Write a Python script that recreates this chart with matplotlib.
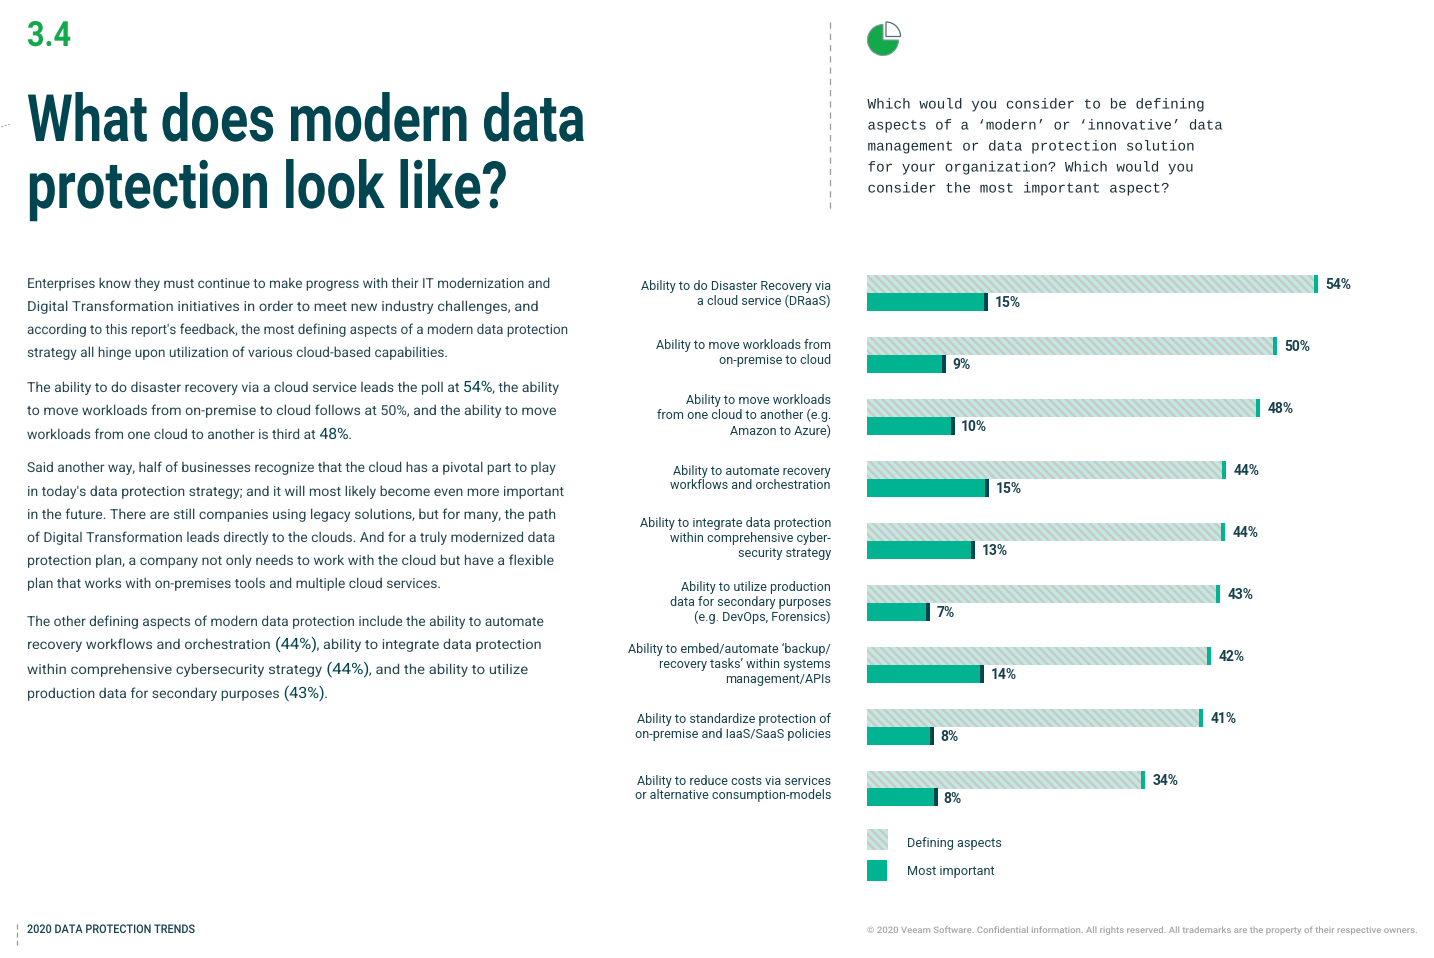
"""
Recreate the 'What does modern data protection look like?' report page.
"""

import matplotlib
matplotlib.use("Agg")
import matplotlib.pyplot as plt
from matplotlib.patches import Rectangle, Wedge
from matplotlib.patheffects import AbstractPathEffect
from matplotlib.transforms import Affine2D

# ---------------------------------------------------------------------------
# 1.  Data
# ---------------------------------------------------------------------------
categories = [
    "Ability to do Disaster Recovery via\na cloud service (DRaaS)",
    "Ability to move workloads from\non-premise to cloud",
    "Ability to move workloads\nfrom one cloud to another (e.g.\nAmazon to Azure)",
    "Ability to automate recovery\nworkflows and orchestration",
    "Ability to integrate data protection\nwithin comprehensive cyber-\nsecurity strategy",
    "Ability to utilize production\ndata for secondary purposes\n(e.g. DevOps, Forensics)",
    "Ability to embed/automate ‘backup/\nrecovery tasks’ within systems\nmanagement/APIs",
    "Ability to standardize protection of\non-premise and IaaS/SaaS policies",
    "Ability to reduce costs via services\nor alternative consumption-models",
]
# bar lengths as drawn on the page, in percent
defining = [55.0, 50.0, 47.9, 43.8, 43.7, 43.0, 41.9, 41.0, 33.9]
important = [14.8, 9.6, 10.7, 14.9, 13.2, 7.7, 14.3, 8.2, 8.6]
defining_labels = ["54%", "50%", "48%", "44%", "44%", "43%", "42%", "41%", "34%"]
important_labels = ["15%", "9%", "10%", "15%", "13%", "7%", "14%", "8%", "8%"]

question = [
    "Which would you consider to be defining",
    "aspects of a ‘modern’ or ‘innovative’ data",
    "management or data protection solution",
    "for your organization? Which would you",
    "consider the most important aspect?",
]

# runs flagged True are the emphasised numbers
body_lines = [
    [("Enterprises know they must continue to make progress with their IT modernization and", False)],
    [("Digital Transformation initiatives in order to meet new industry challenges, and", False)],
    [("according to this report's feedback, the most defining aspects of a modern data protection", False)],
    [("strategy all hinge upon utilization of various cloud-based capabilities.", False)],
    [("The ability to do disaster recovery via a cloud service leads the poll at ", False), ("54%", True), (", the ability", False)],
    [("to move workloads from on-premise to cloud follows at 50%, and the ability to move", False)],
    [("workloads from one cloud to another is third at ", False), ("48%", True), (".", False)],
    [("Said another way, half of businesses recognize that the cloud has a pivotal part to play", False)],
    [("in today's data protection strategy; and it will most likely become even more important", False)],
    [("in the future. There are still companies using legacy solutions, but for many, the path", False)],
    [("of Digital Transformation leads directly to the clouds. And for a truly modernized data", False)],
    [("protection plan, a company not only needs to work with the cloud but have a flexible", False)],
    [("plan that works with on-premises tools and multiple cloud services.", False)],
    [("The other defining aspects of modern data protection include the ability to automate", False)],
    [("recovery workflows and orchestration ", False), ("(44%)", True), (", ability to integrate data protection", False)],
    [("within comprehensive cybersecurity strategy ", False), ("(44%)", True), (", and the ability to utilize", False)],
    [("production data for secondary purposes ", False), ("(43%)", True), (".", False)],
]

# ---------------------------------------------------------------------------
# 2.  Page set-up
# ---------------------------------------------------------------------------
W, H = 1434, 958
NAVY = "#00454f"
TEAL = "#00b391"
GREEN = "#13a94b"
TEXT = "#17414d"
BODY = "#2a4852"
HATCH_BG = "#c2e9e0"
HATCH_FG = "#c9c9c9"
HATCH = "\\\\\\\\"

# page pixel layout for the text blocks
BODY_BASE = [288, 311, 334, 357, 392, 415, 439, 472, 496, 519, 542, 565, 588, 626, 649, 674, 698]
BODY_RIGHT = [551, 539, 569, 448, 559, 556, 352, 556, 564, 556, 555, 554, 441, 544, 542, 528, 328]
QUESTION_RIGHT = [1204, 1222, 1194, 1193, 1169]
LABEL_CENTRES = [291.5, 350.5, 413.5, 476, 536, 600, 662, 725, 786]

plt.rcParams["font.family"] = ["Roboto", "DejaVu Sans"]
plt.rcParams["hatch.linewidth"] = 1.7


class XScale(AbstractPathEffect):
    """Squeeze a text horizontally, Roboto Condensed is not installed."""

    def __init__(self, factor):
        super().__init__()
        self.factor = factor

    def draw_path(self, renderer, gc, tpath, affine, rgbFace=None):
        m = affine.get_matrix().copy()
        m[0, 0] *= self.factor
        m[0, 1] *= self.factor
        renderer.draw_path(gc, tpath, Affine2D(m), rgbFace)


fig = plt.figure(figsize=(W / 100, H / 100), dpi=100, facecolor="white")
renderer = fig.canvas.get_renderer()

# page axes works in reference pixels, y down
page = fig.add_axes([0, 0, 1, 1])
page.set_xlim(0, W)
page.set_ylim(H, 0)
page.axis("off")


def fit_text(x0, x1, y, s, **kw):
    t = page.text(x0, y, s, va="baseline", ha="left", **kw)
    t.set_path_effects([XScale((x1 - x0) / t.get_window_extent(renderer).width)])
    return t


fit_text(27, 71, 46, "3.4", color=GREEN, fontsize=25, fontweight="bold")
fit_text(27, 585, 141, "What does modern data", color=NAVY, fontsize=47, fontweight="bold")
fit_text(27, 507, 208, "protection look like?", color=NAVY, fontsize=47, fontweight="bold")

# stray mark left of the title
page.plot([1, 10], [127, 124], color="#9a9a9a", lw=0.6, ls=(0, (3, 1.5)))

# question block
page.plot([830, 830], [22, 212], color="#9a9a9a", lw=0.9, ls=(0, (5, 4)))
for i, line in enumerate(question):
    fit_text(867.5, QUESTION_RIGHT[i], 108.5 + i * 21, line, family="Liberation Mono",
             fontsize=10.37, color="#1c2f36")

# pie icon
page.add_patch(Wedge((883, 40), 15.5, 0, 270, facecolor=GREEN,
                     edgecolor="#8a9a9c", lw=0.8))
page.add_patch(Wedge((886, 36.5), 14.5, 270, 360, facecolor="white",
                     edgecolor="#4f6f75", lw=0.9))

# body copy, run by run so the numbers can sit larger inside a line
for runs, base, right in zip(body_lines, BODY_BASE, BODY_RIGHT):
    texts = [page.text(0, base, chunk, fontsize=11.2 if strong else 9.9,
                       fontweight="normal", color=NAVY if strong else BODY,
                       va="baseline", ha="left")
             for chunk, strong in runs]
    widths = [t.get_window_extent(renderer).width for t in texts]
    factor = (right - 27) / sum(widths)
    x = 27
    for t, w in zip(texts, widths):
        t.set_x(x)
        t.set_path_effects([XScale(factor)])
        x += w * factor

# footer
page.plot([17, 17], [924, 948], color="#9a9a9a", lw=0.9, ls=(0, (4, 2.5)))
fit_text(27, 194, 933, "2020 DATA PROTECTION TRENDS", fontsize=8.6, color=TEXT,
         fontweight="medium")
fit_text(867, 1420, 933,
         "© 2020 Veeam Software. Confidential information. All rights reserved. "
         "All trademarks are the property of their respective owners.",
         fontsize=6.45, color="#a6a6a6", fontweight="medium")

# ---------------------------------------------------------------------------
# 3.  Bars
# ---------------------------------------------------------------------------
PX_PER_PCT = 8.2
LEFT, RIGHT = 867, 1400
TOP, BOTTOM = 270, 810
ROW = 62.0
CAP = 4 / PX_PER_PCT

ax = fig.add_axes([LEFT / W, 1 - BOTTOM / H, (RIGHT - LEFT) / W, (BOTTOM - TOP) / H])
ax.patch.set_alpha(0)
ax.set_xlim(0, (RIGHT - LEFT) / PX_PER_PCT)
ax.set_ylim((BOTTOM - 292.5) / ROW, (TOP - 292.5) / ROW)
for spine in ax.spines.values():
    spine.set_visible(False)
ax.xaxis.set_visible(False)

bar_h = 18 / ROW
ypos = list(range(len(categories)))
top_y = [y - 8.5 / ROW for y in ypos]
low_y = [y + 9 / ROW for y in ypos]

ax.barh(top_y, defining, height=bar_h, color=HATCH_BG, edgecolor=HATCH_FG,
        hatch=HATCH, lw=0)
ax.barh(top_y, [CAP] * len(defining), left=[v - CAP for v in defining],
        height=bar_h, color=TEAL)
ax.barh(low_y, important, height=bar_h, color=TEAL)
ax.barh(low_y, [CAP] * len(important), left=[v - CAP for v in important],
        height=bar_h, color=NAVY)

for y, v, s in zip(top_y, defining, defining_labels):
    ax.annotate(s, (v, y), xytext=(5.5, -1), textcoords="offset points", va="center",
                fontsize=10, fontweight="bold", color=TEXT)
for y, v, s in zip(low_y, important, important_labels):
    ax.annotate(s, (v, y), xytext=(4.5, -1.4), textcoords="offset points", va="center",
                fontsize=10, fontweight="bold", color=TEXT)

ax.set_yticks([(c - 292.5) / ROW for c in LABEL_CENTRES])
ax.set_yticklabels(categories, fontsize=9.1, color=TEXT, linespacing=1.19, ha="right")
ax.tick_params(axis="y", length=0, pad=26)

# legend, placed by hand as on the page
page.add_patch(Rectangle((867, 829), 21, 21, facecolor=HATCH_BG, edgecolor=HATCH_FG,
                         hatch=HATCH, lw=0))
page.add_patch(Rectangle((867, 860), 20, 21, facecolor=TEAL, lw=0))
page.text(907, 843, "Defining aspects", fontsize=9.2, color=TEXT, va="center", ha="left")
page.text(907, 872, "Most important", fontsize=9.2, color=TEXT, va="center", ha="left")

fig.savefig("out.png", dpi=100)
